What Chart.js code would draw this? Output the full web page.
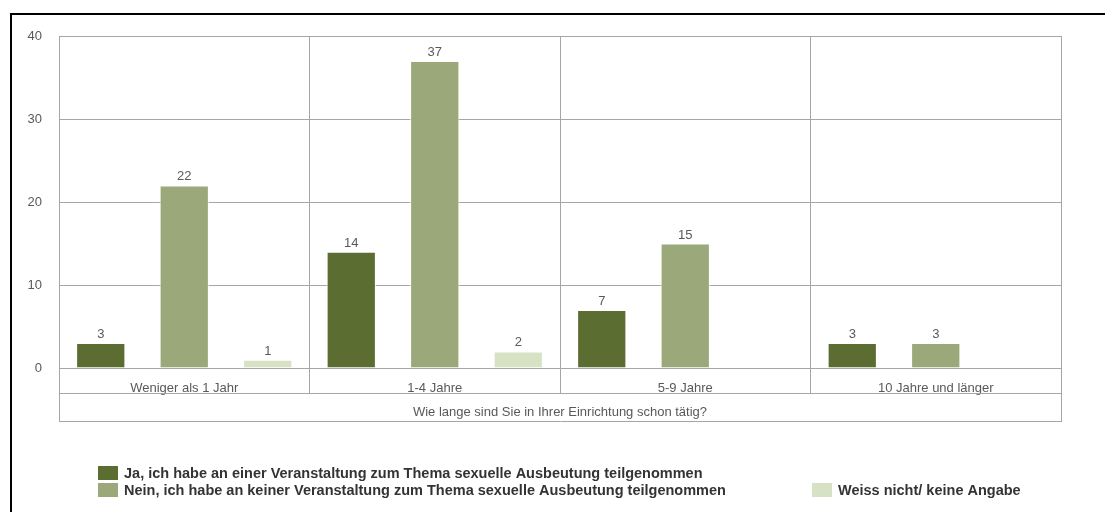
<!DOCTYPE html>
<html>
<head>
<meta charset="utf-8">
<script src="https://cdn.jsdelivr.net/npm/chart.js@4.4.1/dist/chart.umd.min.js"></script>
<style>
  html, body { margin: 0; padding: 0; background: #fff; overflow: hidden; }
  #wrap { position: relative; width: 1105px; height: 512px; }
  #frame { position: absolute; left: 10px; top: 13px; width: 1200px; height: 600px;
           border-left: 2px solid #000; border-top: 2px solid #000; pointer-events: none; }
  canvas { display: block; }
</style>
</head>
<body>
<div id="wrap">
  <canvas id="chart" width="1105" height="512"></canvas>
  <div id="frame"></div>
</div>
<script>
// data
const categories = ['Weniger als 1 Jahr', '1-4 Jahre', '5-9 Jahre', '10 Jahre und länger'];
const seriesNames = [
  'Ja, ich habe an einer Veranstaltung zum Thema sexuelle Ausbeutung teilgenommen',
  'Nein, ich habe an keiner Veranstaltung zum Thema sexuelle Ausbeutung teilgenommen',
  'Weiss nicht/ keine Angabe'
];
const jaValues = [3, 14, 7, 3];
const neinValues = [22, 37, 15, 3];
const weissValues = [1, 2, null, null];
const yTicks = [0, 10, 20, 30, 40];
const axisTitle = 'Wie lange sind Sie in Ihrer Einrichtung schon tätig?';

const colors = ['#5b6d31', '#9aa87a', '#d7e2c5'];
const gridColor = '#a6a6a6';
const textColor = '#595959';
const FONT = 'Liberation Sans, Arial, sans-serif';

// value labels above the bars
const valueLabels = {
  id: 'valueLabels',
  afterDatasetsDraw(chart) {
    const ctx = chart.ctx;
    ctx.save();
    ctx.font = '13px ' + FONT;
    ctx.fillStyle = textColor;
    ctx.textAlign = 'center';
    ctx.textBaseline = 'alphabetic';
    chart.data.datasets.forEach((ds, i) => {
      chart.getDatasetMeta(i).data.forEach((bar, j) => {
        const v = ds.data[j];
        if (v == null) return;
        ctx.fillText(String(v), bar.x, bar.y - 5);
      });
    });
    ctx.restore();
  }
};

// box below the category row + custom legend
const frameAndLegend = {
  id: 'frameAndLegend',
  afterDraw(chart) {
    const ctx = chart.ctx;
    const x = chart.scales.x;
    const rowY = chart.chartArea.bottom + 25;
    ctx.save();
    ctx.strokeStyle = gridColor;
    ctx.lineWidth = 1;
    ctx.beginPath();
    ctx.moveTo(x.left, rowY + 0.5); ctx.lineTo(x.right, rowY + 0.5);
    ctx.moveTo(x.left, x.bottom + 0.5); ctx.lineTo(x.right + 1, x.bottom + 0.5);
    ctx.moveTo(x.left + 0.5, rowY); ctx.lineTo(x.left + 0.5, x.bottom);
    ctx.moveTo(x.right + 0.5, rowY); ctx.lineTo(x.right + 0.5, x.bottom);
    ctx.stroke();

    const spots = [[98, 466], [98, 483], [812, 483]];
    ctx.font = 'bold 14.5px ' + FONT;
    ctx.textAlign = 'left';
    ctx.textBaseline = 'middle';
    chart.data.datasets.forEach((ds, i) => {
      const [lx, ly] = spots[i];
      ctx.fillStyle = ds.backgroundColor;
      ctx.fillRect(lx, ly, 20, 14);
      ctx.fillStyle = '#333333';
      ctx.fillText(ds.label, lx + 26, ly + 7.5);
    });
    ctx.restore();
  }
};

new Chart(document.getElementById('chart'), {
  type: 'bar',
  data: {
    labels: categories,
    datasets: [
      { label: seriesNames[0], data: jaValues, backgroundColor: colors[0] },
      { label: seriesNames[1], data: neinValues, backgroundColor: colors[1] },
      { label: seriesNames[2], data: weissValues, backgroundColor: colors[2] }
    ]
  },
  options: {
    responsive: false,
    animation: false,
    events: [],
    layout: { padding: { top: 36, right: 44, bottom: 91, left: 0 } },
    datasets: {
      bar: {
        categoryPercentage: 1.0,
        barPercentage: 0.59,
        borderWidth: 1,
        borderColor: 'rgba(255,255,255,0.85)'
      }
    },
    plugins: {
      legend: { display: false },
      tooltip: { enabled: false }
    },
    scales: {
      x: {
        offset: true,
        grid: {
          offset: true,
          color: gridColor,
          lineWidth: 1,
          drawTicks: true,
          tickLength: 25
        },
        border: { color: gridColor },
        ticks: {
          font: { family: FONT, size: 13 },
          color: textColor,
          padding: -12,
          maxRotation: 0,
          autoSkip: false
        },
        title: {
          display: true,
          text: axisTitle,
          font: { family: FONT, size: 13 },
          color: textColor,
          padding: { top: 0, bottom: 1 }
        },
        afterFit(scale) { scale.height = 53; }
      },
      y: {
        min: 0,
        max: 40,
        afterBuildTicks(scale) { scale.ticks = yTicks.map(v => ({ value: v })); },
        grid: { color: gridColor, lineWidth: 1, drawTicks: false },
        border: { color: gridColor },
        ticks: {
          font: { family: FONT, size: 13 },
          color: textColor,
          padding: 17
        },
        afterFit(scale) { scale.width = 59; }
      }
    }
  },
  plugins: [valueLabels, frameAndLegend]
});
</script>
</body>
</html>
